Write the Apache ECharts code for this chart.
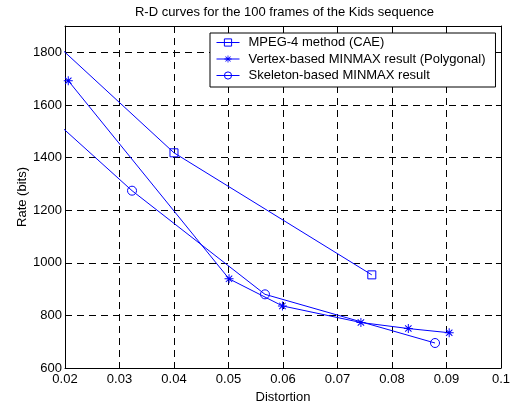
<!DOCTYPE html>
<html><head><meta charset="utf-8">
<script src="https://cdn.jsdelivr.net/npm/echarts@6/dist/echarts.min.js"></script>
<style>html,body{margin:0;padding:0;background:#fff}#c{width:513px;height:409px}</style>
</head><body><div id="c"></div>
<script>
const titleText = 'R-D curves for the 100 frames of the Kids sequence';
const seriesNames = ['MPEG-4 method (CAE)', 'Vertex-based MINMAX result (Polygonal)', 'Skeleton-based MINMAX result'];
const caeDistortion = [0.01, 0.04, 0.0763];
const caeRate = [1991, 1418, 954];
const vertexDistortion = [0.0206, 0.0501, 0.0599, 0.0743, 0.083, 0.0905];
const vertexRate = [1692, 939, 836, 773, 750, 734];
const skeletonDistortion = [0.01, 0.0323, 0.0567, 0.0879];
const skeletonRate = [1691, 1274, 880, 695];
const xMin = 0.02, xMax = 0.1, xStep = 0.01;
const yMin = 600, yMax = 1900, yStep = 200;

const FONT = 'Liberation Sans, Arial, Helvetica, sans-serif';
const BLUE = '#0000ff';
const ASTERISK = 'path://M-1.1,-10L1.1,-10L1.1,10L-1.1,10Z M-10,-1.1L10,-1.1L10,1.1L-10,1.1Z M-7.85,-6.3L-6.3,-7.85L7.85,6.3L6.3,7.85Z M6.3,-7.85L7.85,-6.3L-6.3,7.85L-7.85,6.3Z';

function zip(xs, ys) { return xs.map((x, i) => [x, ys[i]]); }

const chart = echarts.init(document.getElementById('c'), null, {renderer: 'canvas'});
const txt = {color: '#000', fontFamily: FONT, fontSize: 13};
const gridLine = {show: true, lineStyle: {color: '#000', width: 1, type: [7, 5]}};
const axLine = {show: true, onZero: false, lineStyle: {color: '#000', width: 1}};
const ticks = {show: true, inside: true, length: 5, lineStyle: {color: '#000', width: 1}};

const hollow = {color: 'rgba(255,255,255,0)', borderColor: BLUE, borderWidth: 1};

chart.setOption({
  animation: false,
  textStyle: {fontFamily: FONT},
  title: {
    text: titleText, left: 284.5, textAlign: 'center', top: 6, padding: 0,
    textStyle: {fontSize: 13, fontWeight: 'normal', color: '#000', fontFamily: FONT}
  },
  grid: {left: 65, right: 9, top: 26, bottom: 37},
  legend: {
    orient: 'vertical', left: 210, top: 33,
    padding: [3, 10, 5, 6], itemWidth: 23, itemHeight: 9, itemGap: 3.5,
    borderColor: '#000', borderWidth: 1, backgroundColor: '#fff', borderRadius: 0,
    lineStyle: {width: 1, color: BLUE},
    itemStyle: {borderWidth: 1},
    textStyle: Object.assign({}, txt, {padding: [0, 0, 0, 4], width: 237}),
    data: seriesNames
  },
  xAxis: [
    {type: 'value', position: 'bottom', min: xMin, max: xMax, interval: xStep,
     axisLine: axLine, axisTick: ticks, splitLine: gridLine,
     axisLabel: Object.assign({}, txt, {margin: 5}),
     name: 'Distortion', nameLocation: 'middle', nameGap: 23, nameMoveOverlap: false, nameTextStyle: txt},
    {type: 'value', position: 'top', min: xMin, max: xMax, interval: xStep,
     axisLine: axLine, axisTick: ticks, splitLine: {show: false}, axisLabel: {show: false}}
  ],
  yAxis: [
    {type: 'value', position: 'left', min: yMin, max: yMax, interval: yStep,
     axisLine: axLine, axisTick: ticks, splitLine: gridLine,
     axisLabel: Object.assign({}, txt, {margin: 3, showMaxLabel: false, formatter: v => String(v)}),
     name: 'Rate (bits)', nameLocation: 'middle', nameGap: 36, nameMoveOverlap: false, nameTextStyle: txt},
    {type: 'value', position: 'right', min: yMin, max: yMax, interval: yStep,
     axisLine: axLine, axisTick: ticks, splitLine: {show: false}, axisLabel: {show: false}}
  ],
  series: [
    {name: seriesNames[0], type: 'line', data: zip(caeDistortion, caeRate),
     color: BLUE, symbol: 'rect', symbolSize: 8, lineStyle: {color: BLUE, width: 1},
     itemStyle: hollow, clip: true, emphasis: {disabled: true}, z: 3},
    {name: seriesNames[1], type: 'line', data: zip(vertexDistortion, vertexRate),
     color: BLUE, symbol: ASTERISK, symbolSize: 9, lineStyle: {color: BLUE, width: 1},
     itemStyle: {color: BLUE, borderWidth: 0}, clip: true, emphasis: {disabled: true}, z: 3},
    {name: seriesNames[2], type: 'line', data: zip(skeletonDistortion, skeletonRate),
     color: BLUE, symbol: 'circle', symbolSize: 9, lineStyle: {color: BLUE, width: 1},
     itemStyle: hollow, clip: true, emphasis: {disabled: true}, z: 3}
  ]
});
</script></body></html>
